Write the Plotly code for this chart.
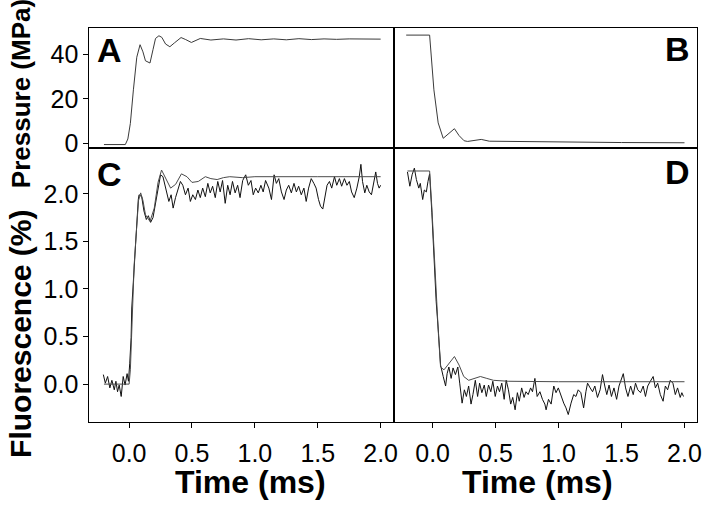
import plotly.graph_objects as go

# ---------------- data ----------------
# Panel A: pressure jump (MPa) vs time (ms)
a_time = [-0.20, -0.03, -0.01, 0.01, 0.034, 0.061, 0.087, 0.11, 0.13, 0.166, 0.19, 0.21, 0.237,
          0.26, 0.29, 0.324, 0.36, 0.413, 0.45, 0.495, 0.566, 0.65, 0.75, 0.85, 0.95, 1.05,
          1.15, 1.25, 1.35, 1.45, 1.55, 1.65, 1.75, 1.85, 2.0]
a_press = [-0.5, -0.5, 2.0, 9.0, 24.0, 38.6, 44.2, 41.0, 37.0, 36.0, 42.0, 47.0, 48.2,
           47.5, 44.5, 43.3, 45.0, 47.4, 46.5, 45.2, 47.0, 46.3, 46.8, 46.3, 46.9, 46.4,
           46.8, 46.4, 46.9, 46.5, 46.8, 46.6, 46.8, 46.7, 46.7]

# Panel B: pressure drop (MPa) vs time (ms)
b_time = [-0.21, -0.024, 0.01, 0.044, 0.084, 0.12, 0.173, 0.21, 0.25, 0.278, 0.33, 0.386,
          0.45, 0.6, 0.8, 1.0, 1.5, 2.0]
b_press = [48.5, 48.5, 24.0, 9.2, 2.3, 4.0, 6.6, 3.5, 1.2, 0.9, 1.3, 1.8,
           1.0, 0.9, 0.7, 0.5, 0.4, 0.3]

# Panel C: fluorescence (%) after pressure jump, measured (noisy) and fitted
c_time = [-0.205, -0.189, -0.171, -0.153, -0.137, -0.118, -0.105, -0.092, -0.079, -0.063,
          -0.047, -0.032, -0.016, -0.005, 0.005, 0.016, 0.021, 0.039, 0.053, 0.073, 0.079,
          0.10, 0.118, 0.137, 0.153, 0.171, 0.19, 0.224, 0.25, 0.269, 0.295, 0.316, 0.334,
          0.35, 0.369, 0.39, 0.408, 0.427, 0.448, 0.469, 0.487, 0.506, 0.527, 0.547, 0.566,
          0.585, 0.606, 0.626, 0.645, 0.664, 0.685, 0.705, 0.724, 0.743, 0.764, 0.784, 0.803,
          0.822, 0.843, 0.863, 0.882, 0.903, 0.922, 0.927, 0.948, 0.969, 0.987, 1.006, 1.027,
          1.048, 1.066, 1.085, 1.111, 1.132, 1.153, 1.171, 1.19, 1.211, 1.232, 1.25, 1.269,
          1.29, 1.311, 1.33, 1.348, 1.369, 1.39, 1.408, 1.427, 1.448, 1.469, 1.487, 1.506,
          1.522, 1.54, 1.558, 1.574, 1.593, 1.611, 1.633, 1.651, 1.672, 1.69, 1.712, 1.732,
          1.751, 1.769, 1.79, 1.811, 1.83, 1.843, 1.856, 1.874, 1.89, 1.909, 1.927, 1.949,
          1.961, 1.975, 1.988, 2.0]
c_fluor = [0.10, 0.01, 0.08, -0.04, 0.04, -0.06, 0.03, -0.08, -0.01, -0.13,
           0.08, -0.01, 0.11, 0.03, 0.22, 0.49, 0.80, 1.22, 1.53, 1.94, 1.99,
           1.97, 1.82, 1.73, 1.77, 1.70, 1.75, 2.02, 2.20, 2.18, 2.02, 1.92, 1.99,
           1.85, 1.96, 2.04, 2.13, 2.09, 1.99, 2.06, 1.92, 1.99, 1.94, 2.04, 1.96,
           2.06, 1.97, 2.11, 2.01, 2.08, 1.96, 2.13, 2.02, 2.14, 1.90, 2.09, 1.99,
           2.13, 2.01, 2.09, 1.96, 2.14, 2.20, 2.20, 2.09, 2.14, 1.99, 2.06, 2.01,
           2.09, 2.02, 2.14, 2.06, 1.94, 2.20, 2.11, 2.16, 2.02, 1.94, 2.04, 2.09,
           2.01, 2.11, 2.02, 2.08, 1.99, 2.06, 1.92, 2.06, 2.16, 2.11, 2.06, 1.94,
           1.87, 1.84, 1.99, 2.09, 2.13, 2.06, 2.18, 2.09, 2.16, 2.08, 2.16, 2.09,
           2.13, 2.02, 1.96, 2.06, 2.18, 2.31, 2.13, 2.01, 2.09, 2.02, 1.99, 2.13,
           2.23, 2.11, 2.06, 2.09]
c_fit_time = [-0.20, 0.0, 0.01, 0.021, 0.04, 0.06, 0.075, 0.092, 0.11, 0.13, 0.166, 0.2,
              0.23, 0.258, 0.29, 0.33, 0.37, 0.416, 0.46, 0.50, 0.55, 0.606, 0.65, 0.7,
              0.75, 0.8, 0.9, 1.0, 1.5, 2.0]
c_fit = [0.0, 0.0, 0.15, 0.65, 1.25, 1.65, 1.93, 2.01, 1.93, 1.78, 1.71, 1.85,
         2.12, 2.25, 2.16, 2.06, 2.10, 2.21, 2.18, 2.12, 2.13, 2.18, 2.16, 2.15,
         2.17, 2.18, 2.17, 2.18, 2.18, 2.18]

# Panel D: fluorescence (%) after pressure drop, measured (noisy) and fitted
d_time = [-0.20, -0.181, -0.163, -0.145, -0.129, -0.11, -0.098, -0.079, -0.066, -0.05,
          -0.037, -0.024, -0.006, 0.008, 0.028, 0.047, 0.058, 0.063, 0.084, 0.103, 0.115,
          0.129, 0.147, 0.162, 0.181, 0.20, 0.215, 0.234, 0.252, 0.268, 0.286, 0.305, 0.32,
          0.339, 0.357, 0.373, 0.391, 0.41, 0.426, 0.444, 0.462, 0.478, 0.497, 0.515, 0.531,
          0.549, 0.568, 0.584, 0.602, 0.62, 0.636, 0.655, 0.673, 0.688, 0.707, 0.726, 0.741,
          0.759, 0.778, 0.793, 0.812, 0.83, 0.852, 0.872, 0.891, 0.901, 0.92, 0.941, 0.962,
          0.98, 0.998, 1.02, 1.041, 1.059, 1.077, 1.099, 1.12, 1.138, 1.156, 1.177, 1.199,
          1.217, 1.23, 1.251, 1.27, 1.288, 1.309, 1.33, 1.349, 1.367, 1.383, 1.401, 1.42,
          1.44, 1.461, 1.48, 1.498, 1.514, 1.532, 1.551, 1.572, 1.593, 1.611, 1.629, 1.651,
          1.672, 1.69, 1.708, 1.729, 1.751, 1.769, 1.787, 1.808, 1.83, 1.848, 1.866, 1.887,
          1.908, 1.927, 1.945, 1.966, 1.979, 1.992]
d_fluor = [2.23, 2.08, 2.20, 2.27, 2.15, 2.06, 2.11, 1.94, 2.04, 2.02,
           2.13, 2.21, 1.80, 1.42, 0.87, 0.53, 0.22, 0.20, 0.08, -0.02, 0.11,
           0.18, 0.06, 0.17, 0.10, 0.18, 0.01, -0.20, -0.06, -0.13, -0.02, -0.21, -0.11,
           0.04, -0.13, 0.01, -0.09, -0.01, -0.13, -0.01, -0.08, 0.03, -0.13, -0.02, -0.08,
           0.01, -0.16, 0.04, -0.06, -0.21, -0.14, -0.27, -0.09, -0.18, -0.04, -0.14, -0.08,
           -0.11, -0.04, -0.08, 0.06, -0.13, -0.08, -0.16, -0.21, -0.27, -0.16, -0.21, -0.02,
           -0.09, -0.04, -0.13, -0.20, -0.25, -0.32, -0.20, -0.11, -0.13, -0.06, -0.09, -0.25,
           -0.08, 0.01, -0.04, -0.08, -0.02, -0.14, -0.06, 0.10, -0.02, -0.11, -0.01, -0.13,
           -0.04, -0.16, -0.02, 0.04, 0.11, -0.04, -0.13, -0.02, -0.11, 0.01, -0.06, -0.09,
           -0.02, -0.13, -0.02, 0.03, 0.08, -0.04, 0.01, -0.11, -0.18, -0.02, -0.06, 0.04,
           0.01, -0.11, -0.04, -0.14, -0.09, -0.13]
d_fit_time = [-0.20, -0.024, -0.006, 0.008, 0.028, 0.047, 0.063, 0.09, 0.12, 0.173, 0.21,
              0.247, 0.286, 0.33, 0.379, 0.43, 0.483, 0.6, 1.0, 2.0]
d_fit = [2.24, 2.24, 1.85, 1.45, 0.90, 0.50, 0.18, 0.15, 0.20, 0.29, 0.20,
         0.08, 0.04, 0.06, 0.08, 0.06, 0.04, 0.03, 0.025, 0.025]

# axis ticks
time_ticks = [0.0, 0.5, 1.0, 1.5, 2.0]
time_ticklabels = ["0.0", "0.5", "1.0", "1.5", "2.0"]
press_ticks = [0, 20, 40]
press_ticklabels = ["0", "20", "40"]
fluor_ticks = [0.0, 0.5, 1.0, 1.5, 2.0]
fluor_ticklabels = ["0.0", "0.5", "1.0", "1.5", "2.0"]
panel_letters = ["A", "B", "C", "D"]

# ---------------- layout geometry (pixels) ----------------
W, H = 715, 513
XL, XM, XR = 90, 397, 702
YT, YM, YB = 28, 151, 430


def px(p):
    return p / W


def py(p):
    return 1 - p / H


FONT = "Liberation Sans, Arial, Helvetica, sans-serif"
LINE_DATA = "#111111"
LINE_FIT = "#4a4a4a"
LINE_PRESS = "#3a3a3a"

fig = go.Figure()

fig.add_trace(go.Scatter(x=a_time, y=a_press, mode="lines", xaxis="x", yaxis="y",
                         line=dict(color=LINE_PRESS, width=1), showlegend=False))
fig.add_trace(go.Scatter(x=b_time, y=b_press, mode="lines", xaxis="x2", yaxis="y2",
                         line=dict(color=LINE_PRESS, width=1), showlegend=False))
fig.add_trace(go.Scatter(x=c_time, y=c_fluor, mode="lines", xaxis="x3", yaxis="y3",
                         line=dict(color=LINE_DATA, width=1), showlegend=False))
fig.add_trace(go.Scatter(x=c_fit_time, y=c_fit, mode="lines", xaxis="x3", yaxis="y3",
                         line=dict(color=LINE_FIT, width=1), showlegend=False))
fig.add_trace(go.Scatter(x=d_time, y=d_fluor, mode="lines", xaxis="x4", yaxis="y4",
                         line=dict(color=LINE_DATA, width=1), showlegend=False))
fig.add_trace(go.Scatter(x=d_fit_time, y=d_fit, mode="lines", xaxis="x4", yaxis="y4",
                         line=dict(color=LINE_FIT, width=1), showlegend=False))

tickfont = dict(family=FONT, size=25, color="black")
common = dict(showline=True, mirror=True, linecolor="black", linewidth=1,
              showgrid=False, zeroline=False, tickfont=tickfont,
              ticklen=5, tickwidth=1, tickcolor="black")

xl_range = [-0.316, 2.108]
xr_range = [-0.305, 2.100]
press_range = [-2.2, 51.9]
fluor_range = [-0.403, 2.478]

fig.update_layout(
    width=W, height=H, autosize=False,
    margin=dict(l=0, r=0, t=0, b=0),
    paper_bgcolor="white", plot_bgcolor="white",
    xaxis=dict(domain=[px(XL), px(XM)], range=xl_range, anchor="y",
               showticklabels=False, ticks="", **common),
    yaxis=dict(domain=[py(YM), py(YT)], range=press_range, anchor="x",
               tickvals=press_ticks, ticktext=press_ticklabels, ticks="outside", **common),
    xaxis2=dict(domain=[px(XM), px(XR)], range=xr_range, anchor="y2",
                showticklabels=False, ticks="", **common),
    yaxis2=dict(domain=[py(YM), py(YT)], range=press_range, anchor="x2",
                showticklabels=False, ticks="", **common),
    xaxis3=dict(domain=[px(XL), px(XM)], range=xl_range, anchor="y3",
                tickvals=time_ticks, ticktext=time_ticklabels, ticks="outside",
                ticklabelstandoff=4, **common),
    yaxis3=dict(domain=[py(YB), py(YM)], range=fluor_range, anchor="x3",
                tickvals=fluor_ticks, ticktext=fluor_ticklabels, ticks="outside", **common),
    xaxis4=dict(domain=[px(XM), px(XR)], range=xr_range, anchor="y4",
                tickvals=time_ticks, ticktext=time_ticklabels, ticks="outside",
                ticklabelstandoff=4, **common),
    yaxis4=dict(domain=[py(YB), py(YM)], range=fluor_range, anchor="x4",
                showticklabels=False, ticks="", **common),
)

bold = dict(family=FONT, color="black")
ann = []
# panel letters
ann.append(dict(text="<b>%s</b>" % panel_letters[0], x=px(96), y=py(51), xanchor="left", yanchor="middle",
                font=dict(size=34, **bold)))
ann.append(dict(text="<b>%s</b>" % panel_letters[1], x=px(697), y=py(50), xanchor="right", yanchor="middle",
                font=dict(size=34, **bold)))
ann.append(dict(text="<b>%s</b>" % panel_letters[2], x=px(96), y=py(177), xanchor="left", yanchor="middle",
                font=dict(size=34, **bold)))
ann.append(dict(text="<b>%s</b>" % panel_letters[3], x=px(697), y=py(175), xanchor="right", yanchor="middle",
                font=dict(size=34, **bold)))
# axis titles
ann.append(dict(text="<b>Pressure (MPa)</b>", x=px(21), y=py(95), xanchor="center", yanchor="middle",
                textangle=-90, font=dict(size=26, **bold)))
ann.append(dict(text="<b>Fluorescence (%)</b>", x=px(20), y=py(340), xanchor="center", yanchor="middle",
                textangle=-90, font=dict(size=30, **bold)))
ann.append(dict(text="<b>Time (ms)</b>", x=px(252), y=py(491), xanchor="center", yanchor="middle",
                borderpad=0, font=dict(size=32, **bold)))
ann.append(dict(text="<b>Time (ms)</b>", x=px(541), y=py(491), xanchor="center", yanchor="middle",
                borderpad=0, font=dict(size=32, **bold)))
for a in ann:
    a.update(xref="paper", yref="paper", showarrow=False)
fig.update_layout(annotations=ann)

fig.write_html(
    "out.html",
    config={"displayModeBar": False},
    post_script="document.body.style.margin='0';document.body.style.padding='0';"
                "document.documentElement.style.overflow='hidden';",
)
